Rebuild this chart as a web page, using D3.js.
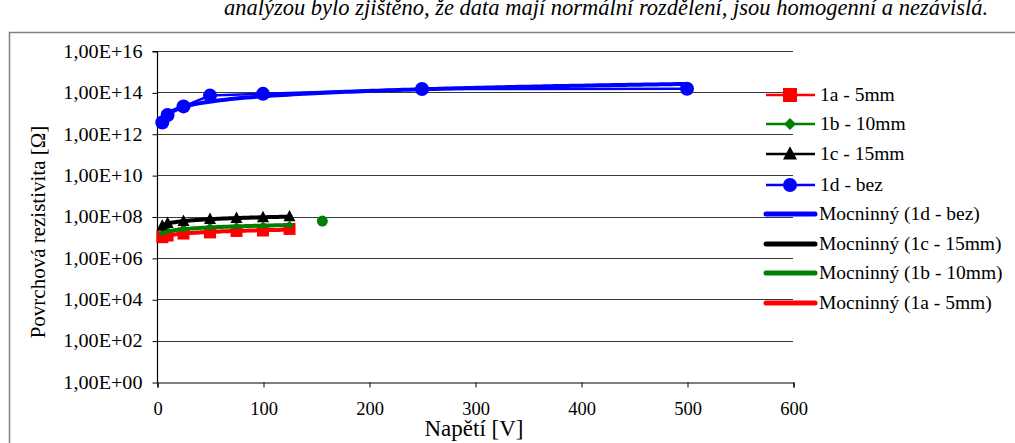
<!DOCTYPE html>
<html><head><meta charset="utf-8">
<script src="https://cdn.jsdelivr.net/npm/d3@7"></script>
<style>
html,body{margin:0;padding:0;background:#fff;}
svg{display:block;font-family:"Liberation Serif","Times New Roman",serif;}
</style></head>
<body><svg id="c" width="1015" height="443"></svg>
<script>
// ---- data ----
const voltages1a = [5, 10, 25, 50, 75, 100, 125];
const values1a   = [1.0e7, 1.2e7, 1.5e7, 1.7e7, 2.0e7, 2.1e7, 2.5e7];
const voltages1b = [5, 10, 25, 50, 75, 100, 125];
const values1b   = [1.4e7, 2.0e7, 2.6e7, 3.0e7, 3.3e7, 3.5e7, 3.8e7];
const voltages1c = [5, 10, 25, 50, 75, 100, 125];
const values1c   = [3.5e7, 4.8e7, 6.0e7, 7.5e7, 8.3e7, 9.0e7, 1.0e8];
const voltages1d = [5, 10, 25, 50, 100, 250, 500];
const values1d   = [3.5e12, 8.0e12, 2.1e13, 7.0e13, 8.5e13, 1.45e14, 1.5e14];
const extraPointX = [156];
const extraPointY = [6.0e7];
const xTicks = [0, 100, 200, 300, 400, 500, 600];
const yTicks = [1e0, 1e2, 1e4, 1e6, 1e8, 1e10, 1e12, 1e14, 1e16];
const seriesNames = ["1a - 5mm", "1b - 10mm", "1c - 15mm", "1d - bez"];
const trendNames = ["Mocninný (1d - bez)", "Mocninný (1c - 15mm)", "Mocninný (1b - 10mm)", "Mocninný (1a - 5mm)"];
const titleText = "analýzou bylo zjištěno, že data mají normální rozdělení, jsou homogenní a nezávislá.";

const series = [
  {name: seriesNames[0], xs: voltages1a, ys: values1a, color: "#ff0000", marker: "square"},
  {name: seriesNames[1], xs: voltages1b, ys: values1b, color: "#008000", marker: "diamond"},
  {name: seriesNames[2], xs: voltages1c, ys: values1c, color: "#000000", marker: "triangle"},
  {name: seriesNames[3], xs: voltages1d, ys: values1d, color: "#0000ff", marker: "circle"}
];

const svg = d3.select("#c");
const L = 157, R = 793, T = 51, B = 382;
const x = d3.scaleLinear().domain([0, 600]).range([L, R]);
const y = d3.scaleLog().domain([1, 1e16]).range([B, T]);

// title text (partly cut at top, as in the source page)
svg.append("text").attr("x", 606).attr("y", 15).attr("text-anchor", "middle")
  .attr("font-style", "italic").attr("font-size", 22.5).text(titleText);

// outer frame
svg.append("rect").attr("x", 9.5).attr("y", 32.5).attr("width", 1100).attr("height", 500)
  .attr("fill", "none").attr("stroke", "#808080").attr("stroke-width", 1.5);

// gridlines
svg.append("g").selectAll("line").data(yTicks.slice(1)).join("line")
  .attr("x1", L).attr("x2", R).attr("y1", d => Math.round(y(d)) + 0.5).attr("y2", d => Math.round(y(d)) + 0.5)
  .attr("stroke", "#3a3a3a").attr("stroke-width", 1);

const fmt = d => {
  const e = Math.round(Math.log10(d));
  return "1,00E+" + String(e).padStart(2, "0");
};

// axes
const yAxis = d3.axisLeft(y).tickValues(yTicks).tickFormat(fmt).tickSize(5).tickPadding(8);
const gy = svg.append("g").attr("transform", `translate(${L + 0.5},0.5)`).call(yAxis);
const xAxis = d3.axisBottom(x).tickValues(xTicks).tickFormat(d3.format("d")).tickSize(5).tickPadding(14);
const gx = svg.append("g").attr("transform", `translate(0.5,${B + 0.5})`).call(xAxis);
[gx, gy].forEach(g => {
  g.select(".domain").attr("stroke", "#000").attr("stroke-width", 1.2);
  g.selectAll(".tick line").attr("stroke", "#000");
  g.selectAll("text").attr("font-family", "Liberation Serif, serif").attr("font-size", 18).attr("fill", "#000");
});
gy.select(".domain").attr("d", `M-5,${T}H0V${B}`);
gy.selectAll("text").attr("transform", "scale(1.12,1)").attr("x", -15 / 1.12);
gx.selectAll("text").attr("font-size", 18.5);

// axis titles
svg.append("text").attr("x", 474).attr("y", 436).attr("text-anchor", "middle")
  .attr("font-size", 23).text("Napětí [V]");
svg.append("text").attr("transform", "translate(45,232) rotate(-90)").attr("text-anchor", "middle")
  .attr("font-size", 21).text("Povrchová rezistivita [Ω]");

function markerPath(type, size) {
  const s = size;
  if (type === "square") return `M${-s/2},${-s/2}h${s}v${s}h${-s}Z`;
  if (type === "diamond") return `M0,${-s/2}L${s/2},0L0,${s/2}L${-s/2},0Z`;
  if (type === "triangle") return `M0,${-s*0.55}L${s/2},${s*0.4}L${-s/2},${s*0.4}Z`;
  return d3.symbol(d3.symbolCircle, Math.PI * (s/2) * (s/2))();
}
const markerSize = {square: 12, diamond: 9, triangle: 12, circle: 14};

// data lines and markers
const line = d3.line().x(d => x(d[0])).y(d => y(d[1]));
series.forEach(s => {
  const pts = s.xs.map((v, i) => [v, s.ys[i]]);
  svg.append("path").datum(pts).attr("d", line).attr("fill", "none")
    .attr("stroke", s.color).attr("stroke-width", 2.5);
  svg.append("g").selectAll("path").data(pts).join("path")
    .attr("transform", d => `translate(${x(d[0])},${y(d[1])})`)
    .attr("d", markerPath(s.marker, markerSize[s.marker])).attr("fill", s.color);
});
// extra point
svg.append("g").selectAll("circle").data(extraPointX.map((v, i) => [v, extraPointY[i]])).join("circle")
  .attr("cx", d => x(d[0])).attr("cy", d => y(d[1])).attr("r", 5.5).attr("fill", "#008000");

// power trendlines (least-squares fit in log-log space)
function powerFit(xs, ys) {
  const lx = xs.map(Math.log), ly = ys.map(Math.log);
  const mx = d3.mean(lx), my = d3.mean(ly);
  const b = d3.sum(lx.map((v, i) => (v - mx) * (ly[i] - my))) / d3.sum(lx.map(v => (v - mx) ** 2));
  const a = Math.exp(my - b * mx);
  return {a, b};
}
[3, 2, 1, 0].forEach(i => {
  const s = series[i];
  const f = powerFit(s.xs, s.ys);
  const x0 = d3.min(s.xs), x1 = d3.max(s.xs);
  const pts = d3.range(0, 101).map(k => { const v = x0 + (x1 - x0) * k / 100; return [v, f.a * Math.pow(v, f.b)]; });
  svg.append("path").datum(pts).attr("d", line).attr("fill", "none")
    .attr("stroke", s.color).attr("stroke-width", 4).attr("stroke-linecap", "round");
});

// legend
const lg = svg.append("g");
const rowY = [95, 124, 154, 185, 214, 244, 273, 303];
series.forEach((s, i) => {
  const yy = rowY[i];
  lg.append("line").attr("x1", 766).attr("x2", 815).attr("y1", yy).attr("y2", yy)
    .attr("stroke", s.color).attr("stroke-width", 2.5);
  lg.append("path").attr("transform", `translate(790,${yy})`)
    .attr("d", markerPath(s.marker, s.marker === "diamond" ? 12 : 14)).attr("fill", s.color);
  lg.append("text").attr("x", 820).attr("y", yy + 6).attr("font-size", 19.5).text(s.name);
});
[3, 2, 1, 0].forEach((si, j) => {
  const yy = rowY[4 + j];
  const s = series[si];
  lg.append("line").attr("x1", 766).attr("x2", 815).attr("y1", yy).attr("y2", yy)
    .attr("stroke", s.color).attr("stroke-width", 5).attr("stroke-linecap", "round");
  lg.append("text").attr("x", 819).attr("y", yy + 6).attr("font-size", 19.5).text(trendNames[j]);
});
</script></body></html>
